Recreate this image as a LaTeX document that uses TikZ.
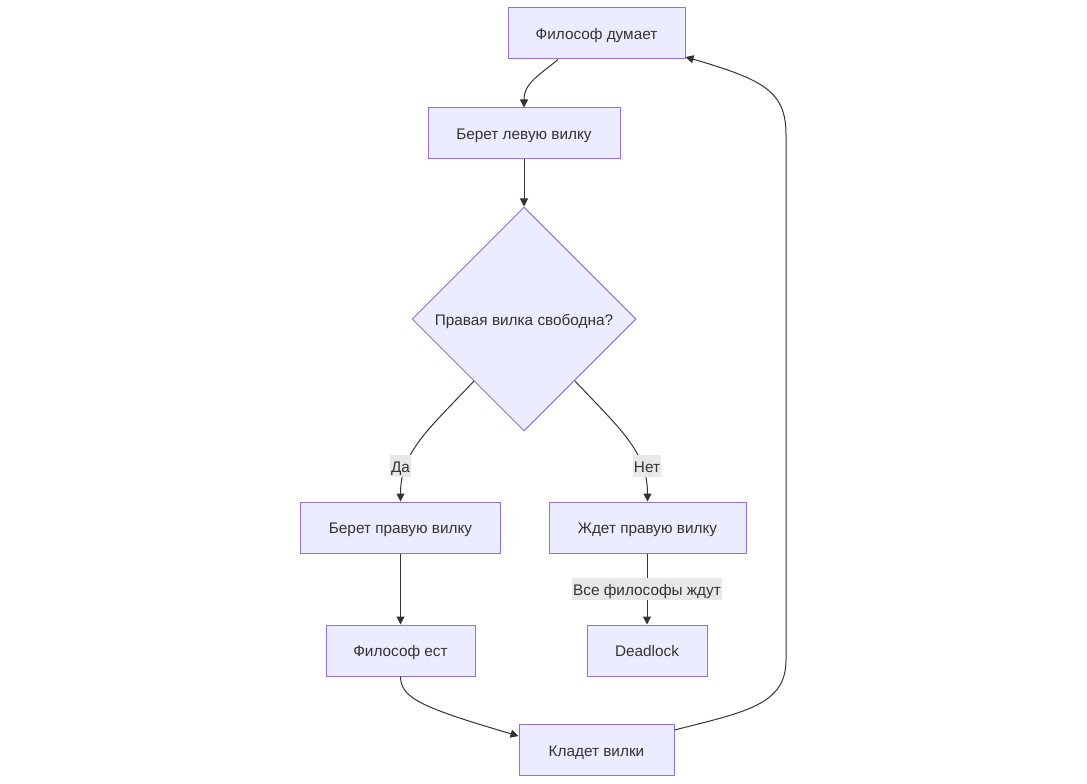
\documentclass[tikz,border=0pt]{standalone}
\usepackage{fontspec}
\setmainfont{Liberation Sans}
\usetikzlibrary{shapes.geometric,arrows.meta,calc}
\definecolor{nodefill}{HTML}{ECECFF}
\definecolor{nodeline}{HTML}{9370DB}
\definecolor{edgecol}{HTML}{333333}
\definecolor{lblfill}{HTML}{E8E8E8}
\tikzset{
  txt/.style={text=edgecol, font=\fontsize{11.5pt}{13pt}\selectfont, text height=10pt, text depth=1pt},
  box/.style={txt, draw=nodeline, fill=nodefill, line width=0.75pt, inner sep=0pt},
  dia/.style={txt, diamond, draw=nodeline, fill=nodefill, line width=0.75pt, inner sep=0pt, minimum width=168pt, minimum height=168pt},
  edge/.style={draw=edgecol, line width=0.75pt, -{Triangle[length=6pt,width=6pt]}},
  elabel/.style={txt, fill=lblfill, inner xsep=1pt, inner ysep=2.5pt}
}
\begin{document}
\begin{tikzpicture}[x=0.75pt,y=-0.75pt]
\useasboundingbox (0,0) rectangle (1087,784);
\node[box, minimum width=132.75pt, minimum height=38.25pt] (A) at (596.5,33.5) {Философ думает};
\node[box, minimum width=144pt, minimum height=38.25pt] (B) at (524,133.5) {Берет левую вилку};
\node[dia] (C) at (524,319) {Правая вилка свободна?};
\node[box, minimum width=150pt, minimum height=38.25pt] (D) at (400.5,527.5) {Берет правую вилку};
\node[box, minimum width=147.75pt, minimum height=38.25pt] (E) at (647.5,527.5) {Ждет правую вилку};
\node[box, minimum width=111.75pt, minimum height=38.25pt] (F) at (400.5,650.5) {Философ ест};
\node[box, minimum width=90pt, minimum height=38.25pt] (G) at (647,650.5) {Deadlock};
\node[box, minimum width=116.25pt, minimum height=38.25pt] (H) at (596.5,750) {Кладет вилки};

\draw[edge] ($(A.south)+(-38.5,0)$) .. controls ($(A.south)+(-56,15)$) and ($(B.north)+(0,-25)$) .. (B.north);
\draw[edge] (B.south) -- (C.north);
\draw[edge] ($(C.center)+(-50,62)$) .. controls ($(C.center)+(-95,110)$) and ($(D.north)+(0,-50)$) .. (D.north);
\draw[edge] ($(C.center)+(51,62)$) .. controls ($(C.center)+(96,110)$) and ($(E.north)+(0,-50)$) .. (E.north);
\node[elabel] (L1) at (400.5,466) {Да};
\node[elabel] (L2) at (647,466) {Нет};
\draw[edge] (D.south) -- (F.north);
\draw[edge] (E.south -| G.north) -- (G.north);
\node[elabel] (L3) at (647,589) {Все философы ждут};
\draw[edge] (F.south) .. controls ($(F.south)+(0,22)$) and ($(H.west)+(-95,-42)$) .. ($(H.west)+(0,-14)$);
\draw[edge] ($(H.east)+(0,-20)$) .. controls (745,712) and (786,705) .. (786,660)
  -- (786,135) .. controls (786,92) and (765,80) .. ($(A.east)+(0,23.5)$);
\end{tikzpicture}
\end{document}
